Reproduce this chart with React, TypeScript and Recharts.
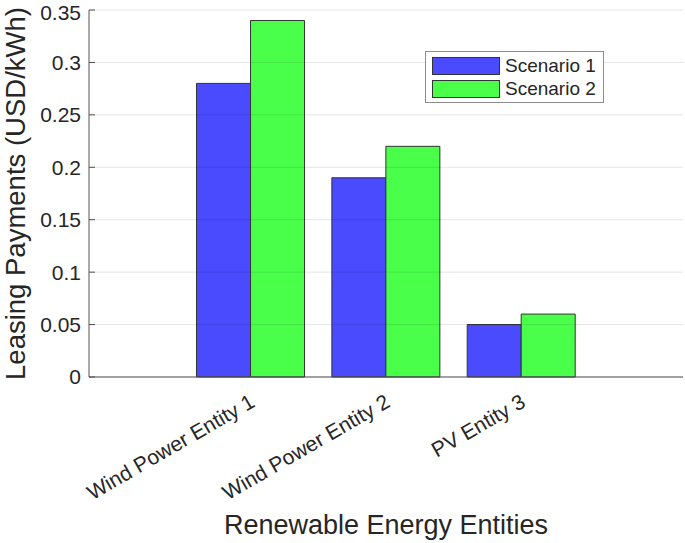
import React from 'react';
import { BarChart, Bar, XAxis, YAxis, CartesianGrid, Legend } from 'recharts';

const categories = ['Wind Power Entity 1', 'Wind Power Entity 2', 'PV Entity 3'];
const scenario1 = [0.28, 0.19, 0.05];
const scenario2 = [0.34, 0.22, 0.06];
const seriesNames = ['Scenario 1', 'Scenario 2'];
const seriesColors = ['#4a4aff', '#4aff4a'];
const yTicks = [0, 0.05, 0.1, 0.15, 0.2, 0.25, 0.3, 0.35];
const xTitle = 'Renewable Energy Entities';
const yTitle = 'Leasing Payments (USD/kWh)';

const data = categories.map((c, i) => ({ name: c, s1: scenario1[i], s2: scenario2[i] }));

const FONT = '"Liberation Sans", Arial, Helvetica, sans-serif';
const TEXT = '#262626';

const XTick = (props: any) => {
  const { x, y, payload } = props;
  return (
    <g transform={`translate(${x - 2},${y + 8})`}>
      <text
        transform="rotate(-30)"
        textAnchor="end"
        dy="0.71em"
        fontSize={21}
        fontFamily={FONT}
        fill={TEXT}
      >
        {payload.value}
      </text>
    </g>
  );
};

const LegendBox = (props: any) => {
  const payload = props.payload || [];
  return (
    <div
      style={{
        width: 177,
        height: 50,
        border: '1px solid #8c8c8c',
        background: '#fff',
        boxSizing: 'content-box',
        fontFamily: FONT,
        fontSize: 19,
        color: TEXT,
        position: 'relative',
      }}
    >
      {payload.map((p: any, i: number) => (
        <div
          key={i}
          style={{ position: 'absolute', left: 6, top: 5 + i * 22.7, height: 18, display: 'flex', alignItems: 'center' }}
        >
          <div
            style={{
              width: 66,
              height: 16,
              background: p.color,
              border: '1px solid #333',
            }}
          />
          <span style={{ marginLeft: 5, lineHeight: '18px', whiteSpace: 'nowrap' }}>{p.value}</span>
        </div>
      ))}
    </div>
  );
};

export default function App() {
  return (
    <div style={{ position: 'absolute', left: 0, top: 0, width: 685, height: 543, background: '#fff' }}>
      <BarChart
        width={685}
        height={543}
        data={data}
        margin={{ top: 10, right: 2, left: 0, bottom: 0 }}
        barCategoryGap="10%"
        barGap={0}
      >
        <XAxis
          dataKey="name"
          type="category"
          padding={{ left: 94, right: 94 }}
          height={166}
          tickLine={false}
          axisLine={{ stroke: '#555', strokeWidth: 1 }}
          tick={<XTick />}
          interval={0}
          label={{
            content: (p: any) => {
              const vb = p.viewBox;
              return (
                <text
                  x={vb.x + vb.width / 2}
                  y={534}
                  textAnchor="middle"
                  fontSize={27}
                  fontFamily={FONT}
                  fill={TEXT}
                >
                  {xTitle}
                </text>
              );
            },
          }}
        />
        <YAxis
          type="number"
          domain={[0, 0.35]}
          ticks={yTicks}
          width={89}
          tickSize={-6}
          tickMargin={14}
          tickLine={{ stroke: '#555' }}
          axisLine={{ stroke: '#555', strokeWidth: 1 }}
          tickFormatter={(v: number) => String(v)}
          tick={{ fontSize: 21, fontFamily: FONT, fill: TEXT }}
          label={{
            content: (p: any) => {
              const vb = p.viewBox;
              const cy = vb.y + vb.height / 2;
              return (
                <text
                  x={25}
                  y={cy}
                  transform={`rotate(-90, 25, ${cy})`}
                  textAnchor="middle"
                  fontSize={27.5}
                  fontFamily={FONT}
                  fill={TEXT}
                >
                  {yTitle}
                </text>
              );
            },
          }}
        />
        <Bar dataKey="s1" name={seriesNames[0]} fill={seriesColors[0]} stroke="#333" strokeWidth={1} isAnimationActive={false} />
        <Bar dataKey="s2" name={seriesNames[1]} fill={seriesColors[1]} stroke="#333" strokeWidth={1} isAnimationActive={false} />
        <CartesianGrid vertical={false} stroke="#000" strokeOpacity={0.1} zIndex={1000} />
        <Legend
          layout="horizontal"
          verticalAlign="middle"
          align="center"
          content={<LegendBox />}
          wrapperStyle={{ position: 'absolute', left: 425, top: 51, width: 179, height: 52 }}
        />
      </BarChart>
    </div>
  );
}
